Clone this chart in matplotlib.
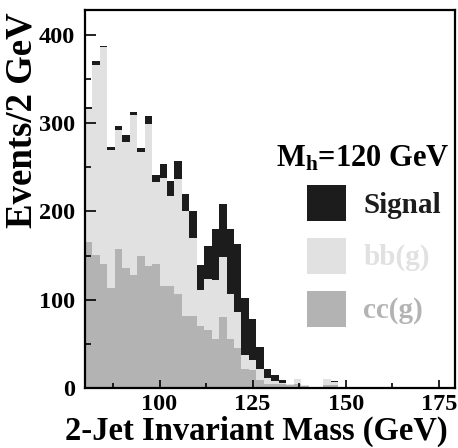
import numpy as np
import matplotlib
matplotlib.use('Agg')
import matplotlib.pyplot as plt
from matplotlib.patches import Rectangle

# bin edges, 2 GeV bins
edges = np.arange(80, 182, 2)

# counts per bin
cc_g = [165, 151, 140, 113, 158, 136, 128, 150, 138, 140,
        116, 116, 106, 82, 82, 70, 66, 56, 81, 56,
        45, 22, 20, 9, 5, 5, 5, 3, 5, 2,
        0, 0, 3, 3, 0, 0, 0, 0, 0, 0,
        0, 0, 0, 0, 0, 0, 0, 0, 0, 0]
bb_g = [151, 215, 246, 157, 134, 143, 181, 117, 161, 93,
        122, 102, 131, 118, 88, 41, 58, 66, 67, 50,
        41, 15, 12, 13, 6, 3, 1, 2, 5, 1,
        0, 0, 7, 4, 0, 0, 0, 0, 0, 0,
        0, 0, 0, 0, 0, 0, 0, 0, 0, 0]
signal = [2, 4, 1, 3, 5, 8, 4, 5, 9, 8,
          16, 16, 20, 20, 31, 28, 37, 58, 61, 74,
          77, 65, 46, 25, 10, 7, 3, 0, 0, 0,
          0, 0, 0, 1, 0, 0, 0, 0, 0, 0,
          0, 0, 0, 0, 0, 0, 0, 0, 0, 0]

labels = ['Signal', 'bb(g)', 'cc(g)']
colors = ['#1c1c1c', '#e1e1e1', '#b3b3b3']

plt.rcParams['font.family'] = 'Liberation Serif'
plt.rcParams['font.weight'] = 'bold'
plt.rcParams['mathtext.fontset'] = 'custom'
plt.rcParams['mathtext.rm'] = 'Liberation Serif:bold'
plt.rcParams['mathtext.it'] = 'Liberation Serif:bold'
plt.rcParams['mathtext.bf'] = 'Liberation Serif:bold'

fig = plt.figure(figsize=(4.58, 4.48), dpi=100)
ax = fig.add_axes([85/458, 1 - 388/448, 370/458, 378/448])

cc = np.array(cc_g, dtype=float)
bb = cc + np.array(bb_g, dtype=float)
tot = bb + np.array(signal, dtype=float)

ax.stairs(cc, edges, baseline=0, fill=True, color=colors[2], lw=0)
ax.stairs(bb, edges, baseline=cc, fill=True, color=colors[1], lw=0)
ax.stairs(tot, edges, baseline=bb, fill=True, color=colors[0], lw=0)

ax.set_xlim(80, 179.3)
ax.set_ylim(0, 428.3)

ax.set_xticks([100, 125, 150, 175])
ax.set_xticks(np.arange(87.5, 180, 12.5), minor=True)
ax.set_yticks([0, 100, 200, 300, 400])
ax.set_yticks([50, 150, 250, 350], minor=True)
ax.tick_params(which='both', direction='in', width=1.2, labelsize=17.5)
ax.tick_params(axis='y', which='major', length=8, pad=7)
ax.tick_params(axis='y', which='minor', length=4.5)
ax.tick_params(axis='x', which='major', length=6, pad=4)
ax.tick_params(axis='x', which='minor', length=3.5)
for lab in ax.get_xticklabels() + ax.get_yticklabels():
    lab.set_fontweight('bold')
for s in ax.spines.values():
    s.set_linewidth(1.6)

# legend drawn by hand
ys = [0.442, 0.302, 0.162]
bases = [0.464, 0.325, 0.186]
txtcol = ['#1c1c1c', '#e1e1e1', '#b3b3b3']
for lab, c, y0, yb, tc in zip(labels, colors, ys, bases, txtcol):
    ax.add_patch(Rectangle((0.601, y0), 0.104, 0.094, transform=ax.transAxes,
                           color=c, lw=0, clip_on=False))
    ax.text(0.752, yb, lab, transform=ax.transAxes, fontsize=21,
            fontweight='bold', color=tc, va='baseline', ha='left')

ax.text(0.516, 0.587, r'M$_{\mathrm{h}}$=120 GeV', transform=ax.transAxes,
        fontsize=22, fontweight='bold', va='baseline', ha='left')

fig.text(256.5/458, 1 - 440/448, '2-Jet Invariant Mass (GeV)', fontsize=23.5,
         fontweight='bold', ha='center', va='baseline')
fig.text(22/458, 1 - 120/448, 'Events/2 GeV', fontsize=26.5, fontweight='bold',
         ha='center', va='center', rotation=90)

fig.savefig('out.png', dpi=100)
